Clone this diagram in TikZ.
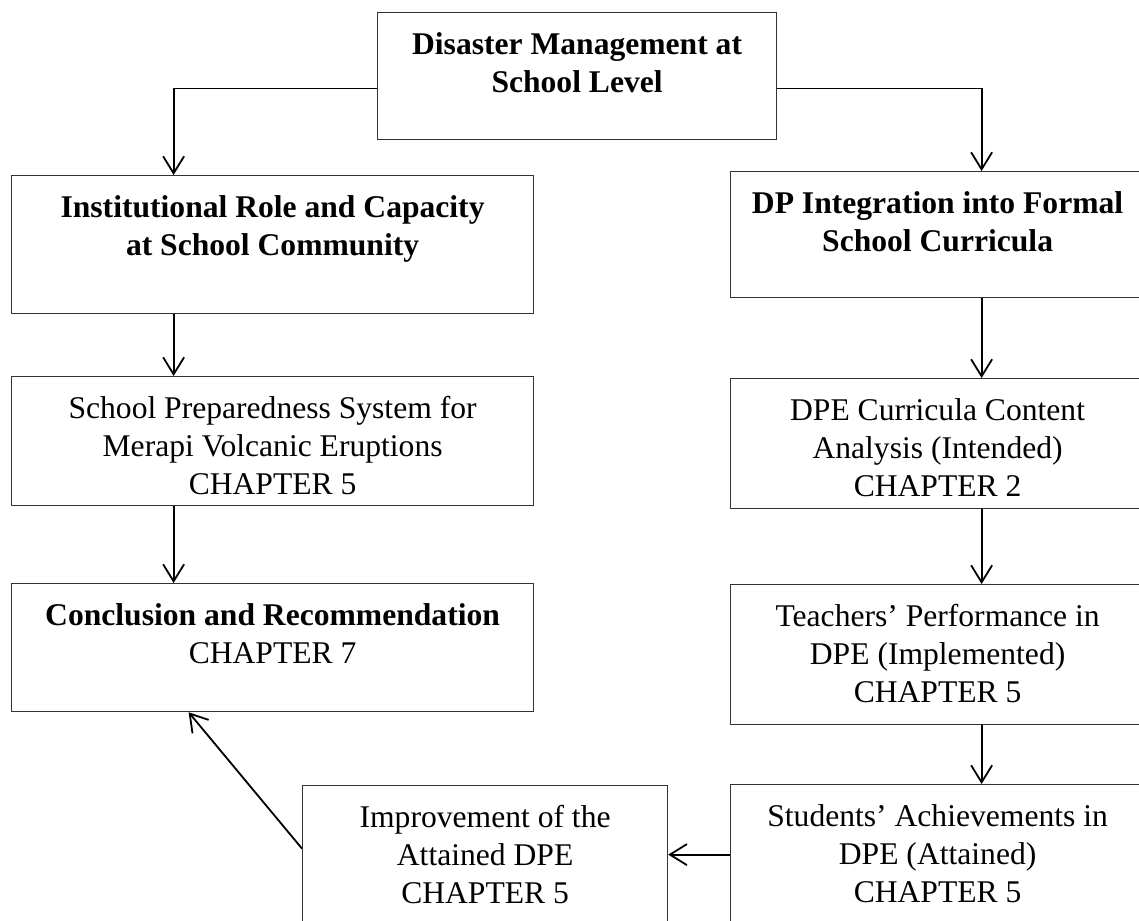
\documentclass[tikz,border=0pt]{standalone}
\usepackage{fontspec}
\setmainfont{Liberation Serif}
\usetikzlibrary{arrows.meta}
\newcommand{\boxtext}[3]{\parbox[c][#2][t]{#1}{\centering\rule{0pt}{21pt}#3}}

\begin{document}
\begin{tikzpicture}[x=.5pt,y=-.5pt,>={Straight Barb[length=8.5pt,width=10.5pt]},
	blk/.style={draw=black!80,line width=.6pt,anchor=north west,inner sep=0pt,font=\fontsize{15.8}{19}\selectfont},
	arr/.style={->,line width=.9pt}]
	\clip (0,0) rectangle (1139,920);
	% boxes
	\node[blk] (top) at (377,12) {\boxtext{199.5pt}{63.5pt}{\textbf{Disaster Management at\\School Level}}};
	\node[blk] (role) at (11,175) {\boxtext{261pt}{69pt}{\textbf{Institutional Role and Capacity\\at School Community}}};
	\node[blk] (integ) at (730,171) {\boxtext{207pt}{63pt}{\textbf{DP Integration into Formal\\School Curricula}}};
	\node[blk] (prep) at (11,376) {\boxtext{261pt}{64.5pt}{School Preparedness System for\\Merapi Volcanic Eruptions\\CHAPTER 5}};
	\node[blk] (intended) at (730,378) {\boxtext{207pt}{65pt}{DPE Curricula Content\\Analysis (Intended)\\CHAPTER 2}};
	\node[blk] (concl) at (11,583) {\boxtext{261pt}{64pt}{\textbf{Conclusion and Recommendation}\\CHAPTER 7}};
	\node[blk] (implem) at (730,584) {\boxtext{207pt}{70pt}{Teachers' Performance in\\DPE (Implemented)\\CHAPTER 5}};
	\node[blk] (improve) at (302,785) {\boxtext{182.5pt}{80pt}{Improvement of the\\Attained DPE\\CHAPTER 5}};
	\node[blk] (attain) at (730,784) {\boxtext{207pt}{80pt}{Students' Achievements in\\DPE (Attained)\\CHAPTER 5}};
	% connectors
	\draw[arr] ([yshift=-6.25pt]top.west) -| ([xshift=-49.5pt]role.north);
	\draw[arr] ([yshift=-6.25pt]top.east) -| ([xshift=22pt]integ.north);
	\draw[arr] ([xshift=-49.5pt]role.south) -- ([xshift=-49.5pt]prep.north);
	\draw[arr] ([xshift=-49.5pt]prep.south) -- ([xshift=-49.5pt]concl.north);
	\draw[arr] ([xshift=22pt]integ.south) -- ([xshift=22pt]intended.north);
	\draw[arr] ([xshift=22pt]intended.south) -- ([xshift=22pt]implem.north);
	\draw[arr] ([xshift=22pt]implem.south) -- ([xshift=22pt]attain.north);
	\draw[arr] ([yshift=5pt]attain.west) -- ([yshift=5pt]attain.west -| improve.east);
	\draw[arr] ([yshift=8.5pt]improve.west) -- ([xshift=-42pt]concl.south);
\end{tikzpicture}
\end{document}
